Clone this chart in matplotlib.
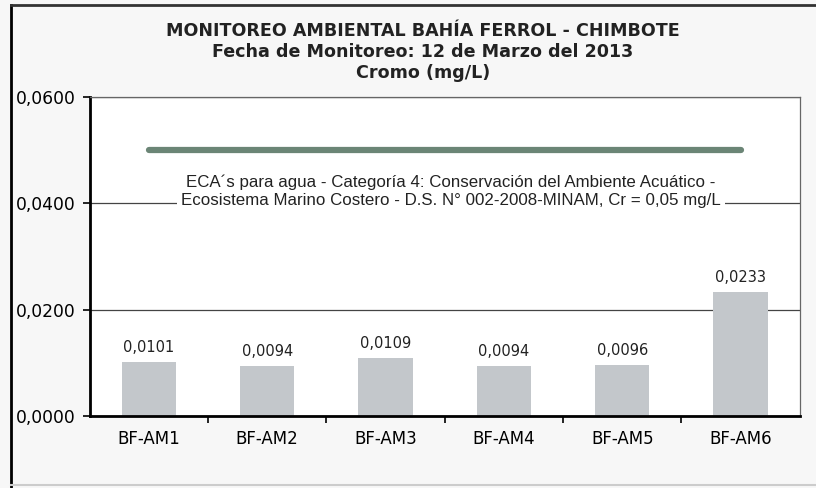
import matplotlib
matplotlib.use("Agg")
import matplotlib.pyplot as plt
from matplotlib.lines import Line2D

# data
stations = ["BF-AM1", "BF-AM2", "BF-AM3", "BF-AM4", "BF-AM5", "BF-AM6"]
cromo = [0.0101, 0.0094, 0.0109, 0.0094, 0.0096, 0.0233]
eca_limit = 0.05
yticks = [0.0, 0.02, 0.04, 0.06]

title = ("MONITOREO AMBIENTAL BAHÍA FERROL - CHIMBOTE\n"
         "Fecha de Monitoreo: 12 de Marzo del 2013\n"
         "Cromo (mg/L)")
eca_text = ("ECA´s para agua - Categoría 4: Conservación del Ambiente Acuático -\n"
            "Ecosistema Marino Costero - D.S. N° 002-2008-MINAM, Cr = 0,05 mg/L")


def fmt(v):
    return f"{v:.4f}".replace(".", ",")


fig = plt.figure(figsize=(8.16, 4.88), dpi=100, facecolor="#f7f7f7")
ax = fig.add_axes([0.110, 0.1475, 0.870, 0.6535])
ax.set_facecolor("white")

x = list(range(len(stations)))
ax.bar(x, cromo, width=0.46, color="#c3c7cb", zorder=2)
for xi, v in zip(x, cromo):
    ax.text(xi, v + 0.0013, fmt(v), ha="center", va="bottom",
            fontsize=10.5, color="#222222")

# ECA threshold
ax.plot([x[0], x[-1]], [eca_limit, eca_limit], color="#6b8576", lw=4.5,
        solid_capstyle="round", zorder=3)
ax.text(2.55, 0.0423, eca_text, ha="center", va="center", fontsize=12.2,
        family="Liberation Sans", color="#222222", linespacing=1.3, zorder=3,
        bbox=dict(facecolor="white", edgecolor="none", pad=3))

ax.set_xlim(-0.5, len(stations) - 0.5)
ax.set_ylim(0, 0.06)
ax.set_yticks(yticks)
ax.set_yticklabels([fmt(v) for v in yticks], fontsize=12.3)
ax.set_xticks(x)
ax.set_xticklabels(stations, fontsize=12)
ax.tick_params(axis="x", length=0, pad=10)
ax.set_xticks([i + 0.5 for i in x[:-1]], minor=True)
ax.tick_params(axis="x", which="minor", length=5, width=1.2, direction="out")
ax.tick_params(axis="y", length=5, width=1.2, direction="out", pad=5)
ax.yaxis.grid(True, color="#444444", lw=0.9, zorder=1)
ax.set_axisbelow(True)

ax.spines["left"].set_linewidth(2)
ax.spines["bottom"].set_linewidth(2)
for s in ("top", "right"):
    ax.spines[s].set_linewidth(0.9)
    ax.spines[s].set_color("#666666")

fig.text(0.518, 0.893, title, ha="center", va="center", fontsize=12.6,
         fontweight="bold", linespacing=1.2, color="#222222")

# outer frame of the scanned figure
fig.add_artist(Line2D([0.013, 0.013], [0.0, 0.99], transform=fig.transFigure,
                      color="black", lw=2))
fig.add_artist(Line2D([0.013, 1.0], [0.99, 0.99], transform=fig.transFigure,
                      color="#333333", lw=2))
fig.add_artist(Line2D([0.013, 1.0], [0.006, 0.006], transform=fig.transFigure,
                      color="#cccccc", lw=1.5))

fig.savefig("out.png", dpi=100, facecolor=fig.get_facecolor())
